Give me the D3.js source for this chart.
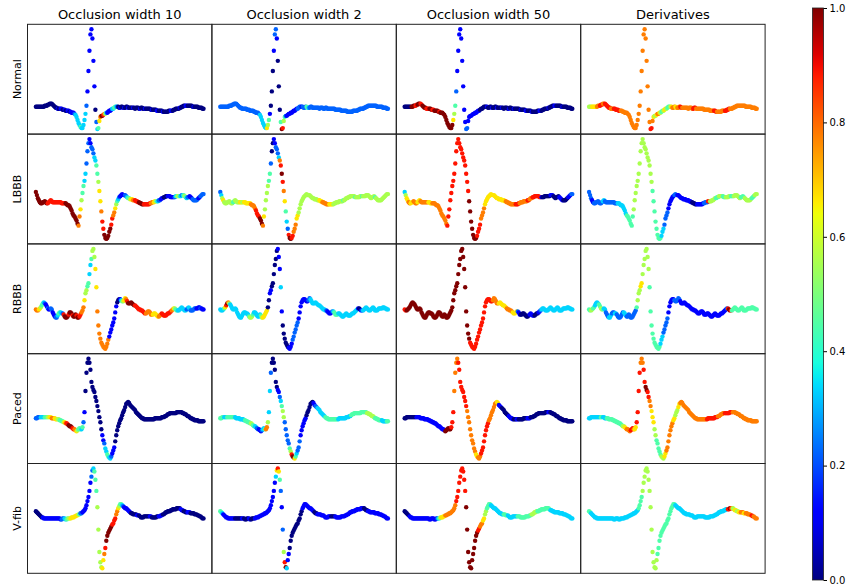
<!DOCTYPE html>
<html>
<head>
<meta charset="utf-8">
<script src="https://cdn.jsdelivr.net/npm/d3@7"></script>
<style>
body { margin: 0; background: #fff; }
svg { display: block; font-family: "DejaVu Sans", sans-serif; }
</style>
</head>
<body>
<svg id="chart" width="849" height="587"></svg>
<script>
// beat shapes (one value per sample)
const normal = [
24,24,24,24,24,24,24,24,24,25, 25,25,26,26,27,27,27,26,25,24, 23,23,22,22,22,22,22,21,21,21,
20,20,20,20,19,19,18,18,18,17, 16,14,11,8,6,4,3,3,6,11, 17,25,39,59,79,95,100,91,69,44,
21,9,2,3,10,14,15,15,16,17, 17,18,18,19,20,20,21,22,22,23, 24,24,24,24,23,23,24,24,23,23,
23,24,24,23,23,23,23,23,23,23, 22,23,23,23,22,22,23,23,22,22, 22,22,22,22,22,22,21,21,21,21,
21,21,20,20,20,20,20,20,19,19, 19,19,19,19,20,20,20,20,20,21, 21,22,22,22,22,23,23,24,24,25,
25,25,25,25,25,25,25,25,24,24, 24,24,24,24,23,23,23,23,22,22];
const lbbb = [
48,45,42,40,38,37,37,38,38,39, 38,37,37,38,39,40,39,38,38,38, 38,38,38,38,38,38,37,37,37,37,
37,36,35,35,34,32,30,27,25,24, 22,20,17,15,24,31,40,47,54,59, 66,76,88,96,100,96,92,90,86,82,
79,74,66,58,49,39,29,19,12,6, 3,2,3,5,9,12,16,22,25,28, 32,36,39,41,43,44,45,46,45,45,
45,44,43,42,42,41,41,41,40,40, 40,39,39,38,38,37,37,36,36,36, 36,36,36,36,36,37,37,38,38,38,
39,39,39,39,40,40,41,42,42,43, 43,44,44,44,44,44,43,43,43,43, 43,44,44,44,44,44,44,45,45,45,
44,43,42,43,43,44,43,42,41,40, 40,40,40,41,42,43,44,45,46,46];
const rbbb = [
40,39,39,40,41,42,44,46,47,46, 45,43,41,40,40,41,40,37,35,33, 32,32,34,36,37,37,36,36,35,33,
32,32,33,35,37,37,36,34,33,33, 35,34,32,32,33,35,37,39,42,49, 56,59,63,66,75,84,90,98,100,92,
80,62,38,24,16,11,7,5,3,2, 1,3,6,10,13,17,20,24,27,31, 37,43,47,49,50,50,49,48,48,49,
51,50,48,46,46,46,47,46,45,44, 44,43,42,41,40,40,39,39,38,37, 36,36,37,38,38,37,35,35,35,36,
36,35,34,33,33,34,35,36,35,34, 34,34,35,36,36,37,38,39,40,41, 41,40,39,39,39,40,41,42,41,40,
39,39,40,41,42,41,39,39,39,40, 41,41,41,41,42,42,41,41,40,40];
const paced = [
41,41,42,42,42,42,42,42,42,42, 42,42,42,42,42,42,41,41,41,41, 40,40,40,40,39,39,38,38,37,37,
36,36,35,34,33,33,32,31,30,30, 29,28,29,30,31,30,30,32,37,47, 68,86,96,100,96,89,77,72,69,67,
62,58,53,48,42,37,30,24,19,16, 11,8,5,3,2,1,3,6,9,12, 18,24,29,33,36,39,41,44,47,49,
52,55,56,57,56,54,53,52,51,50, 49,47,46,45,44,43,42,41,41,40, 40,40,40,40,40,40,40,40,40,40,
41,41,41,41,41,41,41,42,42,42, 43,43,44,45,45,46,46,46,46,46, 46,46,47,47,47,47,47,47,46,46,
45,45,44,43,43,42,41,41,40,40, 39,39,39,39,38,38,38,38,38,38];
const vfib = [
58,57,56,55,54,53,52,52,51,51, 51,51,51,51,51,51,51,51,51,51, 51,51,51,51,51,50,50,51,51,51,
50,50,51,51,51,51,52,52,52,53, 53,54,54,55,55,56,56,57,58,59, 61,64,68,72,78,86,92,98,100,97,
89,78,62,40,18,8,3,2,10,16, 22,29,34,37,39,41,43,45,46,49, 51,55,58,61,63,65,65,64,63,62,
61,61,60,59,58,57,56,56,55,55, 55,55,54,54,54,53,52,52,52,53, 53,53,53,53,53,53,53,52,52,52,
52,52,53,53,53,53,54,54,55,55, 56,57,57,58,58,58,59,59,60,60, 60,60,61,61,61,61,60,59,59,58,
58,57,57,57,57,57,56,56,56,56, 55,55,55,54,54,53,53,52,51,51];

// relevance per sample, 0..9 steps of the colour scale
const normalW10 = [
0,0,0,0,0,0,0,0,0,0, 0,0,0,0,0,0,0,0,0,0, 0,0,1,0,0,1,1,0,0,1, 0,0,1,1,0,1,1,1,1,2,
3,3,3,3,3,4,3,3,3,3, 3,2,1,1,1,1,1,1,1,1, 0,2,3,4,6,7,9,9,8,7, 5,3,1,1,1,1,1,3,3,4,
4,3,2,0,0,1,0,0,0,1, 0,0,0,1,0,0,0,0,1,0, 0,0,0,0,0,1,0,0,0,0, 1,0,0,0,0,0,0,1,0,0,
0,0,1,1,0,0,0,0,1,0, 0,0,0,0,0,0,1,1,0,0, 0,0,0,0,0,1,0,0,0,0, 0,1,1,0,0,0,0,0,0,1,
0,0,0,0,0,0,0,0,0,0];
const normalW2 = [
2,2,2,2,2,2,2,2,2,2, 2,2,2,2,2,2,2,2,2,2, 2,2,2,2,2,2,2,2,2,2, 2,2,2,2,2,2,2,2,2,2,
3,3,3,3,3,3,3,6,5,4, 1,0,0,0,1,2,2,1,0,0, 0,4,9,8,5,4,2,1,1,1, 1,1,1,1,1,1,1,1,2,2,
2,2,1,2,2,2,2,4,4,3, 2,2,2,2,2,2,2,2,2,2, 2,2,2,2,2,2,2,2,2,2, 2,2,2,2,2,2,2,2,2,2,
2,2,2,2,2,2,2,2,2,2, 2,2,2,2,2,2,2,2,2,2, 2,2,2,2,2,2,2,2,2,2, 2,2,2,2,2,2,2,2,2,2,
2,2,2,2,2,2,2,2,2,2];
const normalW50 = [
0,0,0,0,0,0,0,9,9,9, 9,8,8,9,9,9,8,8,9,9, 9,9,8,8,8,9,9,9,8,8, 9,9,9,9,9,8,9,9,9,9,
9,9,9,9,9,9,9,9,9,6, 5,4,2,1,1,1,1,1,1,1, 1,1,2,2,1,1,1,1,1,1, 1,1,1,1,1,1,0,0,0,0,
0,0,0,1,0,0,0,0,1,0, 0,0,0,1,0,0,0,0,1,0, 0,0,0,0,0,1,0,0,0,0, 1,0,0,0,0,0,0,1,0,0,
0,0,1,1,0,0,0,0,1,0, 0,0,0,0,0,0,1,1,0,0, 0,0,0,0,0,1,0,0,0,0, 0,1,1,0,0,0,0,0,0,1,
0,0,0,0,0,0,0,0,0,0];
const normalDeriv = [
5,5,5,6,6,6,6,6,7,7, 7,8,8,8,7,7,8,8,8,8, 8,8,7,7,7,8,8,8,8,8, 8,8,7,7,7,7,7,7,7,7,
7,7,7,7,7,7,7,7,7,7, 7,7,7,7,7,7,7,7,7,7, 7,7,8,8,7,6,5,5,6,7, 7,6,5,4,4,5,6,6,5,4,
4,4,5,6,7,7,7,6,6,7, 7,7,8,8,7,7,7,7,7,7, 7,7,7,7,7,8,8,8,7,7, 7,7,7,7,7,7,7,7,7,7,
7,7,7,7,7,7,8,8,8,7, 7,7,7,7,7,7,7,8,8,8, 8,8,7,7,7,7,7,7,7,7, 7,7,7,7,7,7,7,7,7,7,
7,7,7,7,7,7,7,7,7,7];

const lbbbW10 = [
9,9,9,9,9,9,9,9,9,9, 9,9,8,8,8,8,8,8,8,8, 8,8,8,8,8,8,8,8,8,8, 9,9,9,9,9,9,9,9,9,9,
9,9,9,7,7,6,5,4,4,3, 3,2,2,2,1,1,2,2,2,3, 3,4,4,5,6,6,7,8,8,9, 9,9,9,9,9,9,8,8,7,7,
6,5,4,3,2,1,1,1,1,1, 2,2,3,4,4,5,6,6,7,7, 8,8,8,8,9,9,9,9,9,8, 8,8,8,8,8,8,7,7,7,6,
6,5,4,3,2,2,1,1,1,0, 0,0,0,1,1,1,1,1,1,1, 2,3,4,5,5,4,3,2,3,4, 5,4,3,2,2,1,1,1,2,2,
2,2,2,2,1,1,2,2,2,2];
const lbbbW2 = [
2,3,5,6,5,5,5,5,5,5, 5,5,5,4,4,5,5,5,5,5, 6,6,5,5,6,6,6,6,6,6, 6,7,7,7,7,7,8,8,8,8,
9,9,9,7,6,5,5,5,5,4, 4,2,0,0,1,1,2,2,2,3, 7,8,9,8,7,6,4,3,2,8, 9,9,8,8,7,7,7,6,6,5,
5,5,5,5,5,5,5,5,5,5, 5,5,5,5,5,5,5,5,5,5, 6,6,6,7,7,7,7,7,7,7, 6,6,6,6,5,5,5,5,5,5,
5,5,5,5,4,5,5,5,5,5, 5,5,5,5,5,5,4,5,5,5, 5,5,5,4,5,5,5,5,5,5, 5,5,5,5,5,5,4,5,5,5,
5,5,5,5,5,5,5,5,5,5];
const lbbbW50 = [
3,5,6,6,7,7,6,6,6,7, 7,7,7,6,6,6,7,7,7,7, 7,7,7,7,6,6,6,6,7,7, 7,7,7,7,7,7,7,7,7,7,
7,7,7,8,8,8,8,8,8,8, 8,8,8,8,8,8,8,8,8,8, 8,8,8,8,8,9,9,9,9,9, 9,9,9,8,8,8,8,7,7,7,
7,6,6,6,6,6,6,6,6,6, 6,6,6,6,6,6,6,6,6,6, 6,6,7,7,7,7,7,7,7,7, 7,7,8,8,8,8,7,7,7,7,
7,7,7,7,8,8,7,7,7,8, 8,8,8,8,8,8,8,8,1,0, 0,0,0,0,0,0,0,1,1,1, 0,0,0,0,0,0,1,1,1,1,
0,0,0,0,0,1,1,1,2,2];
const lbbbDeriv = [
2,2,2,1,1,2,2,2,2,2, 2,2,2,2,3,3,2,2,2,2, 2,2,2,2,2,2,2,2,2,3, 3,3,3,3,3,3,3,3,4,4,
4,4,4,4,4,5,5,5,5,5, 5,5,5,5,5,5,5,5,5,5, 5,5,5,5,4,4,4,4,4,4, 4,4,4,3,3,3,2,2,2,2,
1,1,1,1,1,1,2,2,2,1, 1,1,1,1,1,1,1,1,1,1, 1,1,1,1,0,0,0,0,0,1, 1,1,1,1,1,1,2,2,2,2,
8,8,5,5,5,5,5,5,4,4, 4,5,5,5,5,4,4,4,5,5, 5,5,5,4,4,4,5,5,5,5, 5,5,5,4,4,4,4,5,5,5,
5,5,5,5,4,4,4,5,5,5];

const rbbbW10 = [
7,7,7,6,6,5,4,4,3,2, 1,1,2,1,1,2,2,1,1,1, 2,2,3,4,4,3,3,2,8,9, 9,9,9,8,9,9,9,8,9,9,
9,8,9,9,8,8,7,7,7,6, 5,5,4,4,3,3,4,5,5,5, 6,6,7,7,7,7,7,7,7,7, 7,7,7,7,1,1,1,1,1,1,
1,1,0,0,0,1,3,4,5,6, 6,7,8,9,9,9,9,9,9,9, 8,8,8,8,8,8,8,8,8,8, 8,7,7,7,7,7,7,7,6,6,
6,6,6,6,7,7,7,8,8,8, 8,8,8,8,8,8,8,7,7,6, 5,4,4,3,3,3,3,3,3,3, 3,3,2,2,3,3,2,2,2,2,
2,2,1,1,1,1,2,1,1,1];
const rbbbW2 = [
3,3,3,3,4,6,8,9,7,5, 3,3,3,3,3,3,3,3,3,3, 3,3,3,3,3,3,3,3,3,4, 5,5,5,4,3,3,3,3,3,3,
3,4,5,6,6,6,6,6,0,0, 1,1,0,0,0,0,0,0,1,1, 1,3,1,0,0,0,0,0,0,1, 1,1,1,2,2,2,2,2,2,1,
1,1,1,1,1,1,1,1,1,2, 2,3,3,3,3,3,3,3,3,3, 3,3,3,3,3,3,3,2,1,1, 1,1,1,2,3,4,4,4,4,3,
3,3,3,3,3,3,3,3,3,3, 3,3,3,3,3,3,3,3,3,1, 0,0,1,2,3,3,3,3,3,3, 3,3,3,3,3,3,3,3,3,3,
3,3,3,3,3,3,3,3,3,3];
const rbbbW50 = [
8,8,9,9,9,9,9,9,9,9, 9,9,9,9,9,9,9,9,9,9, 9,9,9,9,9,9,9,9,9,9, 9,9,9,9,9,9,9,9,9,9,
9,9,9,9,9,9,9,9,9,9, 9,9,9,9,9,9,9,9,9,9, 9,9,9,9,9,9,8,8,8,8, 8,8,8,8,8,8,8,8,8,8,
8,8,8,8,8,8,8,8,8,7, 7,7,7,7,7,6,6,6,6,6, 6,6,6,7,7,7,7,7,7,6, 6,6,6,6,2,1,1,0,0,0,
0,0,0,0,0,0,1,1,1,1, 1,0,0,0,0,1,1,2,3,3, 3,3,3,3,3,3,3,3,3,3, 3,3,3,3,3,3,3,3,3,3,
3,3,3,3,3,3,3,3,3,3];
const rbbbDeriv = [
4,4,5,5,4,4,3,3,3,3, 4,4,5,5,4,3,3,2,2,2, 3,3,3,2,2,2,3,3,2,2, 2,2,2,2,2,3,3,3,2,2,
2,2,2,2,2,2,2,2,4,5, 5,5,6,6,5,5,5,5,5,5, 5,4,4,4,4,4,4,4,4,4, 4,4,3,3,3,2,2,2,2,2,
1,1,1,1,1,1,2,2,2,2, 2,2,1,1,1,1,1,1,1,1, 1,1,1,1,1,1,1,1,1,1, 1,1,1,1,1,1,1,1,1,1,
1,1,1,1,1,1,1,1,1,1, 1,1,1,1,1,1,1,1,1,2, 8,9,9,8,4,4,4,4,4,4, 4,4,4,4,4,4,4,4,4,4,
4,4,4,4,4,4,4,4,4,4];

const pacedW10 = [
2,2,2,2,2,3,3,3,3,4, 4,4,5,5,6,6,7,7,7,6, 6,6,5,5,4,4,4,4,5,6, 7,8,8,9,9,9,9,8,8,7,
7,6,5,4,4,4,3,4,2,1, 0,0,0,0,0,0,0,0,0,0, 0,0,0,0,0,0,0,1,1,2, 3,3,4,4,3,3,2,1,1,1,
0,0,0,0,0,0,0,0,0,0, 0,0,0,0,0,0,0,0,0,0, 0,0,0,0,0,0,0,0,0,0, 0,0,0,0,0,0,0,0,0,0,
0,0,0,0,0,0,0,0,0,0, 0,0,0,0,0,0,0,0,0,0, 0,0,0,0,0,0,0,0,0,0, 0,0,0,0,0,0,0,0,0,0,
0,0,0,0,0,0,0,0,0,0];
const pacedW2 = [
4,4,4,4,3,3,3,4,4,4, 4,4,4,4,4,3,3,3,3,3, 3,3,3,3,3,4,4,4,4,4, 4,5,5,4,4,3,3,2,2,1,
1,1,2,3,3,4,7,7,5,3, 3,2,0,0,0,0,0,0,1,1, 2,3,4,5,5,2,2,2,2,2, 4,5,8,9,9,6,4,3,2,2,
2,1,1,1,1,1,1,0,0,0, 0,0,0,0,1,1,2,2,3,3, 3,3,3,3,3,3,4,4,4,4, 4,4,4,4,4,4,4,4,4,3,
3,3,3,3,3,3,3,3,3,3, 3,3,4,4,4,4,4,4,4,4, 4,4,4,4,4,4,4,4,5,5, 5,5,5,5,5,5,4,4,4,4,
4,4,4,3,3,3,3,3,4,4];
const pacedW50 = [
0,0,0,0,0,0,0,0,0,0, 0,0,1,1,1,1,1,1,1,1, 1,1,1,1,1,1,1,1,1,1, 1,1,1,1,1,1,1,1,1,1,
1,9,9,9,9,9,9,8,8,8, 7,7,7,7,8,8,8,8,8,8, 8,8,8,7,7,7,7,7,7,7, 7,7,6,6,7,7,7,8,8,8,
8,8,8,8,8,7,7,7,7,7, 7,7,7,6,6,1,1,1,0,0, 0,0,0,0,0,1,1,1,1,1, 0,0,0,1,1,0,0,0,0,0,
0,0,0,0,1,1,1,0,0,0, 0,0,0,0,0,0,0,0,0,0, 0,0,0,0,0,1,1,0,0,0, 0,0,0,0,0,0,0,0,0,0,
0,0,0,0,0,0,0,0,0,0];
const pacedDeriv = [
3,3,3,3,3,3,3,3,3,3, 3,3,4,4,3,3,3,3,4,4, 4,4,4,4,4,4,4,4,4,4, 4,4,4,4,5,5,6,6,7,7,
7,7,8,8,8,7,6,6,8,8, 8,8,7,7,7,8,8,9,9,8, 8,7,7,6,6,6,5,5,4,4, 4,4,4,5,5,5,6,6,7,7,
7,7,7,7,7,6,6,5,5,5, 6,6,7,7,7,7,7,7,7,7, 7,7,7,7,7,7,7,7,7,7, 7,7,7,7,7,7,7,7,7,8,
8,8,8,8,8,8,8,8,8,8, 7,7,7,7,7,7,7,8,8,8, 8,8,8,8,8,7,7,7,7,7, 7,7,7,7,7,7,7,7,7,7,
7,7,7,7,7,7,7,7,7,7];

const vfibW10 = [
0,0,0,0,0,0,0,1,1,1, 1,1,1,1,1,1,1,1,1,1, 1,1,1,1,1,1,2,2,2,3, 3,4,4,5,5,6,6,6,6,6,
6,6,6,5,4,2,2,1,1,1, 1,1,1,1,1,1,2,2,3,4, 4,4,5,5,5,5,5,6,6,7, 8,9,9,9,9,9,9,8,8,8,
8,7,7,6,5,4,4,3,2,1, 1,1,1,1,1,1,0,0,0,0, 0,0,1,1,0,0,0,0,0,0, 0,0,0,0,0,1,1,0,0,0,
0,0,0,0,1,1,1,1,0,0, 0,0,0,0,0,0,0,0,0,0, 0,0,0,0,0,0,1,1,1,0, 0,0,0,1,1,1,0,0,0,0,
0,0,0,0,0,0,0,0,0,0];
const vfibW2 = [
4,4,3,1,1,1,1,1,1,1, 1,1,1,1,1,0,0,0,0,0, 0,0,1,1,0,0,0,0,0,1, 1,0,0,0,0,1,1,1,1,1,
1,1,1,1,1,1,1,1,1,1, 1,1,1,1,1,1,3,6,8,6, 4,2,1,2,5,8,9,3,1,1, 0,0,0,0,0,0,0,0,0,0,
0,0,0,1,1,1,1,1,1,1, 1,1,1,1,1,0,0,0,1,1, 1,1,1,1,1,1,1,1,1,1, 1,1,0,0,0,0,1,1,1,1,
1,1,1,1,1,1,1,1,1,1, 1,1,1,1,1,1,1,1,1,1, 1,1,1,1,1,0,0,0,0,1, 1,1,1,1,1,1,1,1,1,1,
1,1,1,1,1,1,1,1,1,1];
const vfibW50 = [
0,0,0,0,0,1,1,1,1,1, 1,1,1,1,1,1,1,1,1,1, 1,1,1,1,1,1,1,1,1,1, 1,1,1,2,3,4,5,6,6,6,
6,7,7,7,7,7,7,7,7,7, 7,7,8,8,8,8,8,8,8,8, 8,8,9,9,9,9,9,9,9,9, 9,9,9,9,8,8,7,7,7,6,
6,5,5,4,4,4,4,3,3,3, 3,3,3,3,3,3,3,3,3,3, 4,4,4,4,3,3,3,3,3,3, 3,3,3,3,4,4,4,4,4,4,
4,4,4,4,4,4,4,4,5,5, 5,5,5,5,4,4,4,4,4,4, 4,4,4,4,4,4,4,3,3,3, 3,3,3,3,3,3,3,3,3,3,
3,3,3,3,3,3,3,3,3,3];
const vfibDeriv = [
4,4,3,3,3,3,3,3,3,3, 3,3,3,3,3,3,3,3,3,3, 3,3,3,3,3,3,3,3,3,3, 3,3,3,3,3,3,3,3,3,3,
3,3,3,3,3,3,3,3,3,3, 4,4,4,4,5,5,5,5,5,5, 5,5,5,5,5,5,5,5,5,4, 4,4,4,4,4,4,4,4,4,4,
4,4,4,4,4,4,4,3,3,3, 3,3,3,3,3,3,3,3,3,3, 3,3,3,3,3,3,3,3,3,3, 3,3,3,3,3,3,3,3,3,3,
3,3,3,3,3,3,3,3,3,3, 3,3,3,3,3,3,3,3,3,3, 8,8,9,8,7,5,5,6,6,5, 5,6,6,7,7,7,6,6,7,7,
7,7,7,7,8,8,7,7,7,7];

const rowNames = ['Normal', 'LBBB', 'RBBB', 'Paced', 'V-fib'];
const colNames = ['Occlusion width 10', 'Occlusion width 2', 'Occlusion width 50', 'Derivatives'];
const colorTicks = [0, 0.2, 0.4, 0.6, 0.8, 1.0];

const signals = [normal, lbbb, rbbb, paced, vfib];
const relevance = [
    [normalW10, normalW2, normalW50, normalDeriv],
    [lbbbW10, lbbbW2, lbbbW50, lbbbDeriv],
    [rbbbW10, rbbbW2, rbbbW50, rbbbDeriv],
    [pacedW10, pacedW2, pacedW50, pacedDeriv],
    [vfibW10, vfibW2, vfibW50, vfibDeriv]
];

const svg = d3.select('#chart');
const margin = { left: 27.5, top: 24.3 };
const cellW = 184.4, cellH = 109.8;

// matplotlib jet
const jetR = d3.scaleLinear().domain([0, 0.35, 0.66, 0.89, 1]).range([0, 0, 1, 1, 0.5]).clamp(true);
const jetG = d3.scaleLinear().domain([0, 0.125, 0.375, 0.64, 0.91, 1]).range([0, 0, 1, 1, 0, 0]).clamp(true);
const jetB = d3.scaleLinear().domain([0, 0.11, 0.34, 0.65, 1]).range([0.5, 1, 1, 0, 0]).clamp(true);
const jet = v => d3.rgb(jetR(v) * 255, jetG(v) * 255, jetB(v) * 255).formatHex();
const level = d3.scaleLinear().domain([0, 9]).range([0, 1]);

const n = normal.length;
const xScale = d3.scaleLinear()
    .domain([-(n - 1) * 0.05, (n - 1) * 1.05])
    .range([0, cellW]);

signals.forEach((sig, r) => {
    const [lo, hi] = d3.extent(sig);
    const pad = (hi - lo) * 0.05;
    const yScale = d3.scaleLinear().domain([lo - pad, hi + pad]).range([cellH, 0]);

    relevance[r].forEach((rel, c) => {
        const g = svg.append('g')
            .attr('transform', 'translate(' + (margin.left + c * cellW) + ',' + (margin.top + r * cellH) + ')');
        g.selectAll('circle')
            .data(sig)
            .enter()
            .append('circle')
            .attr('cx', (d, i) => xScale(i))
            .attr('cy', d => yScale(d))
            .attr('r', 2.2)
            .attr('fill', (d, i) => jet(level(rel[Math.min(i, rel.length - 1)])));
    });

    svg.append('text')
        .attr('transform', 'translate(21,' + (margin.top + r * cellH + cellH / 2) + ') rotate(-90)')
        .attr('text-anchor', 'middle')
        .style('font-size', '11px')
        .text(rowNames[r]);
});

// panel frames
const frame = svg.append('g')
    .attr('fill', 'none')
    .attr('stroke', '#222')
    .attr('stroke-width', 1);
for (let r = 0; r < rowNames.length; r++) {
    for (let c = 0; c < colNames.length; c++) {
        frame.append('rect')
            .attr('x', margin.left + c * cellW)
            .attr('y', margin.top + r * cellH)
            .attr('width', cellW)
            .attr('height', cellH);
    }
}

colNames.forEach((t, c) => {
    svg.append('text')
        .attr('x', margin.left + c * cellW + cellW / 2)
        .attr('y', 19)
        .attr('text-anchor', 'middle')
        .style('font-size', '13px')
        .text(t);
});

// colour bar
const cbar = { x: 812.5, top: 8, bottom: 580, w: 11 };
const grad = svg.append('defs').append('linearGradient')
    .attr('id', 'jetGrad')
    .attr('x1', 0).attr('y1', 1).attr('x2', 0).attr('y2', 0);
grad.selectAll('stop')
    .data(d3.range(0, 1.0001, 0.02))
    .enter()
    .append('stop')
    .attr('offset', d => d)
    .attr('stop-color', d => jet(d));
svg.append('rect')
    .attr('x', cbar.x)
    .attr('y', cbar.top)
    .attr('width', cbar.w)
    .attr('height', cbar.bottom - cbar.top)
    .attr('fill', 'url(#jetGrad)')
    .attr('stroke', '#222')
    .attr('stroke-width', 0.8);
const cScale = d3.scaleLinear().domain([0, 1]).range([cbar.bottom, cbar.top]);
const cAxis = svg.append('g')
    .attr('transform', 'translate(' + (cbar.x + cbar.w) + ',0)')
    .call(d3.axisRight(cScale).tickValues(colorTicks).tickFormat(d3.format('.1f')).tickSize(3.5));
cAxis.select('.domain').remove();
cAxis.selectAll('text')
    .style('font-family', '"DejaVu Sans", sans-serif')
    .style('font-size', '10px')
    .attr('x', 6);
</script>
</body>
</html>
